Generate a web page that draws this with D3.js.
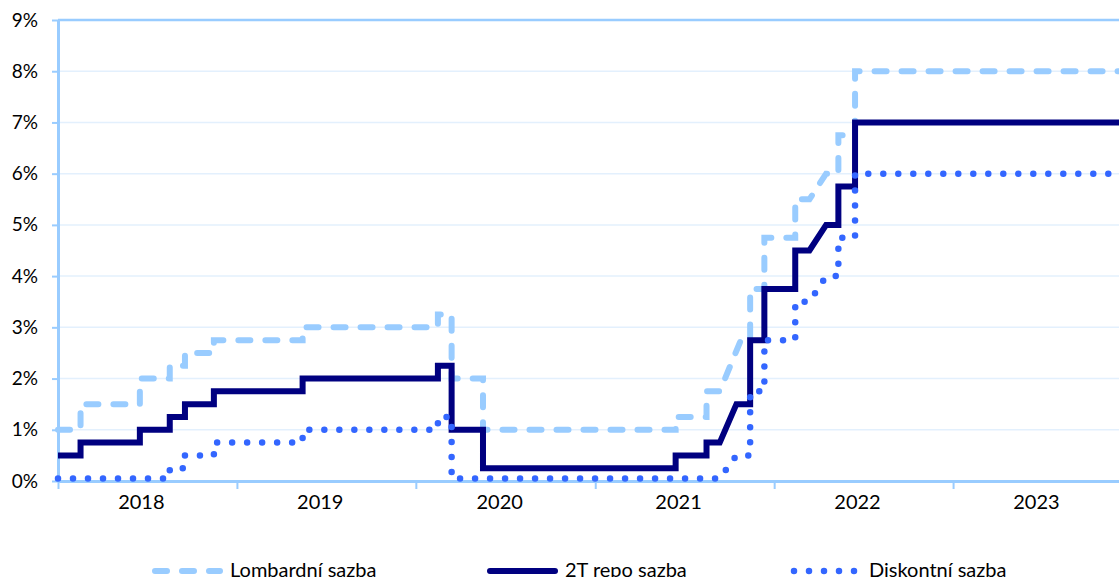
<!DOCTYPE html>
<html>
<head>
<meta charset="utf-8">
<script src="https://cdn.jsdelivr.net/npm/d3@7"></script>
<style>
  body { margin: 0; background: #fff; }
  svg { display: block; font-family: Lato, "Noto Sans", sans-serif; }
</style>
</head>
<body>
<svg width="1119" height="577"></svg>
<script>
//-- data --//
const yearLabels = ["2018", "2019", "2020", "2021", "2022", "2023"];
const yTicks = [0, 1, 2, 3, 4, 5, 6, 7, 8, 9];
const startDate = "2018-01-01";
const endDate = "2023-12-31";

// change = [from, to, new value]; from === to is a plain step
const lombardStart = 1.0;
const lombardChanges = [
  ["2018-02-16", "2018-02-16", 1.5],
  ["2018-06-17", "2018-06-17", 2.0],
  ["2018-08-17", "2018-08-17", 2.25],
  ["2018-09-17", "2018-09-17", 2.5],
  ["2018-11-15", "2018-11-15", 2.75],
  ["2019-05-15", "2019-05-15", 3.0],
  ["2020-02-15", "2020-02-15", 3.25],
  ["2020-03-14", "2020-03-14", 2.0],
  ["2020-05-17", "2020-05-17", 1.0],
  ["2021-06-14", "2021-06-14", 1.25],
  ["2021-08-16", "2021-08-16", 1.75],
  ["2021-09-12", "2021-10-25", 2.75],
  ["2021-11-13", "2021-11-13", 3.75],
  ["2021-12-12", "2021-12-12", 4.75],
  ["2022-02-13", "2022-02-13", 5.5],
  ["2022-03-14", "2022-04-17", 6.0],
  ["2022-05-12", "2022-05-12", 6.75],
  ["2022-06-15", "2022-06-15", 8.0]
];

const repoStart = 0.5;
const repoChanges = [
  ["2018-02-16", "2018-02-16", 0.75],
  ["2018-06-17", "2018-06-17", 1.0],
  ["2018-08-17", "2018-08-17", 1.25],
  ["2018-09-17", "2018-09-17", 1.5],
  ["2018-11-15", "2018-11-15", 1.75],
  ["2019-05-15", "2019-05-15", 2.0],
  ["2020-02-15", "2020-02-15", 2.25],
  ["2020-03-14", "2020-03-14", 1.0],
  ["2020-05-17", "2020-05-17", 0.25],
  ["2021-06-14", "2021-06-14", 0.5],
  ["2021-08-16", "2021-08-16", 0.75],
  ["2021-09-12", "2021-10-16", 1.5],
  ["2021-11-13", "2021-11-13", 2.75],
  ["2021-12-12", "2021-12-12", 3.75],
  ["2022-02-13", "2022-02-13", 4.5],
  ["2022-03-14", "2022-04-17", 5.0],
  ["2022-05-12", "2022-05-12", 5.75],
  ["2022-06-15", "2022-06-15", 7.0]
];

const discountStart = 0.05;
const discountChanges = [
  ["2018-08-17", "2018-08-17", 0.25],
  ["2018-09-17", "2018-09-17", 0.5],
  ["2018-11-15", "2018-11-15", 0.75],
  ["2019-05-15", "2019-05-15", 1.0],
  ["2020-02-15", "2020-02-15", 1.25],
  ["2020-03-14", "2020-03-14", 0.05],
  ["2021-09-12", "2021-10-16", 0.5],
  ["2021-11-13", "2021-11-13", 1.75],
  ["2021-12-12", "2021-12-12", 2.75],
  ["2022-02-13", "2022-02-13", 3.5],
  ["2022-03-14", "2022-04-17", 4.0],
  ["2022-05-12", "2022-05-12", 4.75],
  ["2022-06-15", "2022-06-15", 6.0]
];

const seriesNames = ["Lombardní sazba", "2T repo sazba", "Diskontní sazba"];

//-- helpers --//
const parse = d3.utcParse("%Y-%m-%d");

function buildPoints(start, changes) {
  const pts = [[parse(startDate), start]];
  let v = start;
  changes.forEach(([a, b, nv]) => {
    pts.push([parse(a), v]);
    pts.push([parse(b), nv]);
    v = nv;
  });
  pts.push([parse(endDate), v]);
  return pts;
}

const styles = [
  {color: "#99ccff", width: 6, dash: "12 15"},
  {color: "#000080", width: 6, dash: null},
  {color: "#3366ff", width: 6.5, dash: "0 15"}
];

const series = [
  buildPoints(lombardStart, lombardChanges),
  buildPoints(repoStart, repoChanges),
  buildPoints(discountStart, discountChanges)
].map((pts, i) => ({name: seriesNames[i], pts, style: styles[i]}));

//-- scales --//
const margin = {left: 58, right: 1132, top: 20, bottom: 481};

const x = d3.scaleUtc()
  .domain([parse("2018-01-01"), parse("2024-01-01")])
  .range([margin.left, margin.right]);

const y = d3.scaleLinear()
  .domain([0, 9])
  .range([margin.bottom, margin.top]);

const svg = d3.select("svg");

// gridlines
svg.append("g")
  .selectAll("line")
  .data(yTicks.filter(d => d > 0))
  .join("line")
  .attr("x1", margin.left).attr("x2", margin.right)
  .attr("y1", d => y(d)).attr("y2", d => y(d))
  .attr("stroke", d => d === 9 ? "#99ccff" : "#e3f0fd")
  .attr("stroke-width", d => d === 9 ? 2.5 : 1.5);

// y axis
const yAxis = svg.append("g")
  .attr("transform", `translate(${margin.left},0)`)
  .call(d3.axisLeft(y).tickValues(yTicks).tickFormat(d => d + "%").tickSize(6).tickPadding(14).tickSizeOuter(0));
yAxis.select(".domain").attr("stroke", "#99ccff").attr("stroke-width", 3);
yAxis.selectAll(".tick line").attr("stroke", "#99ccff").attr("stroke-width", 2);
yAxis.selectAll(".tick text").attr("font-size", 19).attr("fill", "#000");
yAxis.attr("font-family", null).attr("font-size", null);

// x axis
const xAxis = svg.append("g")
  .attr("transform", `translate(0,${margin.bottom})`)
  .call(d3.axisBottom(x).ticks(d3.utcYear.every(1)).tickFormat("").tickSize(8).tickSizeOuter(0));
xAxis.select(".domain").attr("stroke", "#99ccff").attr("stroke-width", 3);
xAxis.selectAll(".tick line").attr("stroke", "#99ccff").attr("stroke-width", 2);

svg.append("g")
  .selectAll("text")
  .data(yearLabels)
  .join("text")
  .attr("x", d => x(parse(d + "-06-20")))
  .attr("y", margin.bottom + 21)
  .attr("dy", "0.35em")
  .attr("text-anchor", "middle")
  .attr("font-size", 20)
  .text(d => d);

// lines
const line = d3.line()
  .x(d => x(d[0]))
  .y(d => y(d[1]));

svg.append("g")
  .selectAll("path")
  .data(series)
  .join("path")
  .attr("fill", "none")
  .attr("stroke", d => d.style.color)
  .attr("stroke-width", d => d.style.width)
  .attr("stroke-dasharray", d => d.style.dash)
  .attr("stroke-linecap", d => d.style.dash ? "round" : "butt")
  .attr("stroke-linejoin", "miter")
  .attr("d", d => line(d.pts));

// legend
const legendX = [152, 487, 791];
const legend = svg.append("g")
  .selectAll("g")
  .data(series)
  .join("g")
  .attr("transform", (d, i) => `translate(${legendX[i]},571)`);

legend.append("line")
  .attr("x1", 3)
  .attr("x2", (d, i) => i === 2 ? 66 : 68)
  .attr("stroke", d => d.style.color)
  .attr("stroke-width", d => d.style.width)
  .attr("stroke-dasharray", d => d.style.dash)
  .attr("stroke-linecap", "round");

legend.append("text")
  .attr("x", 78)
  .attr("dy", "0.3em")
  .attr("font-size", 20)
  .text(d => d.name);
</script>
</body>
</html>
